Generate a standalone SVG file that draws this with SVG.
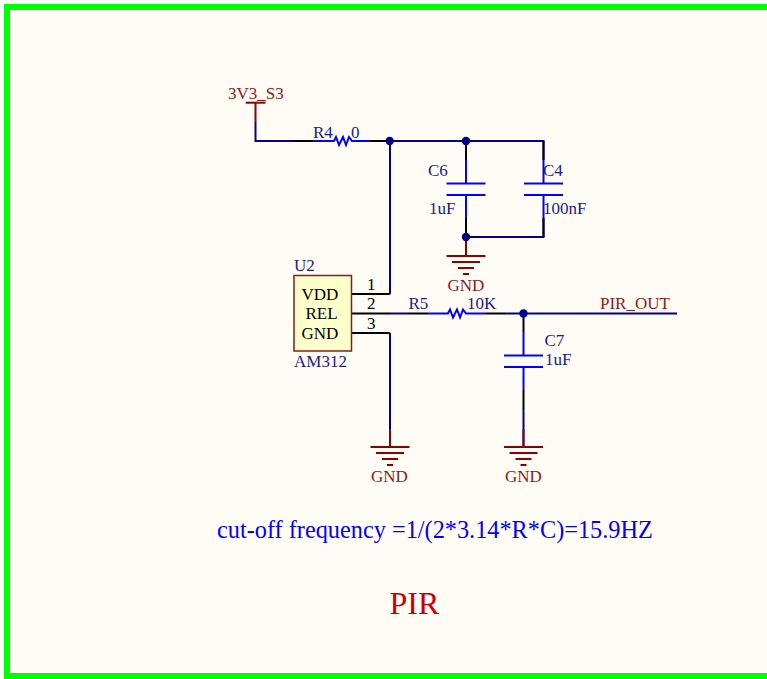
<svg xmlns="http://www.w3.org/2000/svg" width="767" height="679" viewBox="0 0 767 679">
<style>
text{font-family:"Liberation Serif","Times New Roman",serif;font-size:17px}
.d{fill:#1a1a8c}.r{fill:#8b1a1a}.k{fill:#000}
.w{fill:none;stroke:#00008b;stroke-width:2}
.p{fill:none;stroke:#000;stroke-width:2}
.b{fill:none;stroke:#0000ff;stroke-width:2}
.g{fill:none;stroke:#8b0000;stroke-width:2}
.j{fill:#00008b}
</style>
<defs>
<g id="gnd"><path class="g" d="M-19.500 0H19.500M-14 6H14M-8 12H8M-3 18H3"/></g>
<g id="cap"><path class="b" d="M-19.500 0H19.500M-19.500 11.500H19.500"/></g>
</defs>
<rect width="767" height="679" fill="#fff"/>
<rect x="7" y="7" width="770" height="669" fill="#fffcf6" stroke="#00ff00" stroke-width="6"/>
<g id="connectors">
<path class="w" d="M255.500 122V141H293M370 141H543.500V160M466 141V160M466 218V237H543.500V218M390 141V294M390 313.500H408M505 313.500H677M390 333V447M523.500 409V447"/>
<path class="p" d="M293 141H313M370 141H390M466 141V160M543.500 141V160M466 218V237M543.500 218V237M351 294H390M351 313.500H390M351 333H390M408 313.500H428M486 313.500H505M523.500 313.500V332M523.500 390V409"/>
<path class="b" d="M313 141H332L334 141L336 137L339 145L343 137L346 145L349 137L352 141H370M466 160V183M466 195V218M543.500 160V183M543.500 195V218M428 313.500H446L448 313.500L450 309.500L453 317.500L457 309.500L460 317.500L463 309.500L466 313.500H486M523.500 332V355M523.500 367V390"/>
<path class="g" d="M255.500 103V122M466 237V256M390 429V447M523.500 429V447"/>
<circle class="j" cx="389.700" cy="141" r="4.200"/>
<circle class="j" cx="466" cy="141" r="4.200"/>
<circle class="j" cx="466" cy="237" r="4.200"/>
<circle class="j" cx="523.500" cy="313.500" r="4.200"/>
</g>
<g id="pwr"><path class="g" d="M245.700 102.700H265.500"/><text class="r" x="228" y="98.500">3V3_S3</text></g>
<g id="R4"><text class="d" x="313" y="138">R4</text><text class="d" x="351" y="138">0</text></g>
<g id="C6"><use href="#cap" x="466" y="183.500"/><text class="d" x="428" y="176">C6</text><text class="d" x="429" y="214">1uF</text></g>
<g id="C4"><use href="#cap" x="543.500" y="183.500"/><text class="d" x="543" y="176">C4</text><text class="d" x="543" y="214">100nF</text></g>
<g id="GND1"><use href="#gnd" x="466" y="256"/><text class="r" x="447.500" y="291">GND</text></g>
<g id="U2">
<rect x="294" y="275.500" width="57.500" height="75.500" fill="#ffffcc" stroke="#8b1a1a" stroke-width="1.500"/>
<text class="d" x="294" y="271">U2</text>
<text class="k" x="301.500" y="300">VDD</text><text class="k" x="305.500" y="319">REL</text><text class="k" x="301.500" y="339">GND</text>
<text class="k" x="367" y="290">1</text><text class="k" x="367" y="309">2</text><text class="k" x="367" y="329">3</text>
<text class="d" x="294" y="367">AM312</text>
</g>
<g id="R5"><text class="d" x="408.500" y="309">R5</text><text class="d" x="467" y="309">10K</text></g>
<g id="C7"><use href="#cap" x="523.500" y="355.500"/><text class="d" x="544.500" y="346">C7</text><text class="d" x="545" y="365">1uF</text></g>
<g id="net"><text class="r" x="600" y="309">PIR_OUT</text></g>
<g id="GND2"><use href="#gnd" x="390" y="447"/><text class="r" x="371" y="482">GND</text></g>
<g id="GND3"><use href="#gnd" x="523.500" y="447"/><text class="r" x="505" y="482">GND</text></g>
<text x="217" y="538" fill="#0000ff" style="font-size:24.300px">cut-off frequency =1/(2*3.14*R*C)=15.9HZ</text>
<text x="389.500" y="614" fill="#cc0000" style="font-size:32px">PIR</text>
</svg>
